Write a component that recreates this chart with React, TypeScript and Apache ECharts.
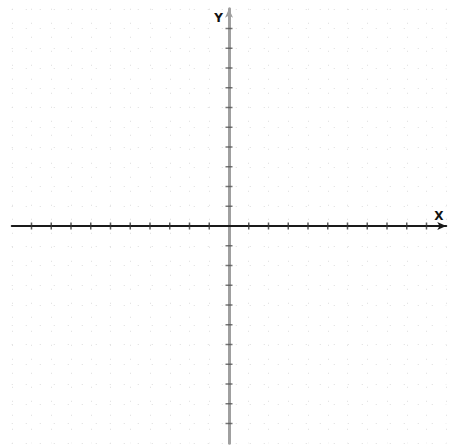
import React, { useEffect, useRef } from "react";
import * as echarts from "echarts";

const axisMin = -11;
const axisMax = 11;
const tickValues = [-10, -9, -8, -7, -6, -5, -4, -3, -2, -1, 1, 2, 3, 4, 5, 6, 7, 8, 9, 10];
const yTickValues = [-10, -9, -8, -7, -6, -5, -4, -3, -2, -1, 1, 2, 3, 4, 5, 6, 7, 8, 9, 10];
const xName = "X";
const yName = "Y";

export default function App() {
  const ref = useRef<HTMLDivElement>(null);
  useEffect(() => {
    if (!ref.current) return;
    const chart = echarts.init(ref.current, null, { renderer: "svg" });
    const splitStyle = { show: true, lineStyle: { color: "#dcdcdc", width: 1, type: [1, 13] as any } };
    chart.setOption({
      animation: false,
      backgroundColor: "#ffffff",
      grid: { left: 11.75, right: 2.75, top: 8.75, bottom: 1.75 },
      xAxis: {
        type: "value",
        min: axisMin,
        max: axisMax,
        interval: 1,
        name: xName,
        nameLocation: "end",
        nameGap: -12,
        nameTextStyle: {
          color: "#111",
          fontWeight: "bold",
          fontSize: 12,
          fontFamily: "DejaVu Sans",
          align: "left",
          verticalAlign: "bottom",
          padding: [0, 0, 4, 0],
        },
        axisLine: {
          onZero: true,
          symbol: ["none", "arrow"],
          symbolSize: [6, 9],
          lineStyle: { color: "#1a1a1a", width: 2 },
        },
        axisTick: { show: false },
        axisLabel: { show: false },
        splitLine: splitStyle,
      },
      yAxis: {
        type: "value",
        min: axisMin,
        max: axisMax,
        interval: 1,
        name: yName,
        nameLocation: "end",
        nameGap: -9,
        nameTextStyle: {
          color: "#111",
          fontWeight: "bold",
          fontSize: 12,
          fontFamily: "DejaVu Sans",
          align: "right",
          verticalAlign: "middle",
          padding: [0, 6, 0, 0],
        },
        axisLine: {
          onZero: true,
          symbol: ["none", "arrow"],
          symbolSize: [6, 9],
          lineStyle: { color: "#a0a0a0", width: 3 },
        },
        axisTick: { show: false },
        axisLabel: { show: false },
        splitLine: splitStyle,
      },
      series: [
        {
          type: "scatter",
          symbol: "rect",
          symbolSize: [1.5, 7],
          itemStyle: { color: "#333" },
          data: tickValues.map((v) => [v, 0]),
          silent: true,
          z: 5,
        },
        {
          type: "scatter",
          symbol: "rect",
          symbolSize: [7, 1.5],
          itemStyle: { color: "#555" },
          data: yTickValues.map((v) => [0, v]),
          silent: true,
          z: 5,
        },
      ],
    });
    return () => chart.dispose();
  }, []);
  return (
    <div
      ref={ref}
      style={{ position: "fixed", left: 0, top: 0, width: 449, height: 445, background: "#fff" }}
    />
  );
}
